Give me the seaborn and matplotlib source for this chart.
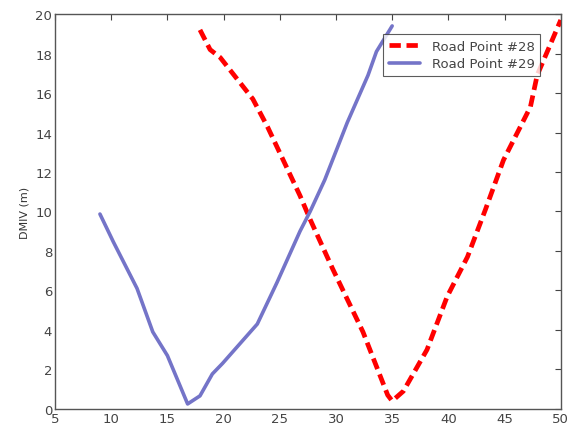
import numpy as np
import pandas as pd
import seaborn as sns
import matplotlib
matplotlib.use("Agg")
import matplotlib.pyplot as plt

# Road Point #28 (red dashed)
x28 = [17.9, 18.8, 19.7, 22.6, 23.9, 26.8, 27.7, 29.7, 32.4, 34.6, 35.0, 36.0, 38.1, 39.9, 41.7, 43.3, 44.9, 47.3, 47.9, 50.0]
y28 = [19.2, 18.2, 17.8, 15.7, 14.3, 10.8, 9.6, 7.1, 3.9, 0.7, 0.4, 0.9, 3.0, 5.7, 7.7, 10.1, 12.6, 15.3, 16.9, 19.7]

# Road Point #29 (blue solid)
x29 = [9.0, 10.2, 12.3, 13.7, 15.0, 16.8, 17.9, 19.0, 19.9, 23.0, 24.75, 26.8, 27.7, 29.0, 31.0, 32.85, 33.6, 35.0]
y29 = [9.87, 8.45, 6.1, 3.9, 2.7, 0.25, 0.66, 1.77, 2.3, 4.3, 6.4, 9.0, 10.0, 11.6, 14.5, 16.9, 18.1, 19.4]

sns.set_style("white")
plt.rcParams['font.family'] = ['DejaVu Sans']
plt.rcParams['xtick.direction'] = 'in'
plt.rcParams['ytick.direction'] = 'in'

fig = plt.figure(figsize=(5.67, 4.31), dpi=100)
ax = fig.add_axes([0.097, 0.049, 0.892, 0.916])

df28 = pd.DataFrame({'x': x28, 'y': y28})
df29 = pd.DataFrame({'x': x29, 'y': y29})
sns.lineplot(data=df28, x='x', y='y', sort=False, ax=ax, color='#ff0000',
             linewidth=3.4, linestyle=(0, (2.4, 1.2)), label='Road Point #28')
sns.lineplot(data=df29, x='x', y='y', sort=False, ax=ax, color='#7474c8',
             linewidth=2.6, label='Road Point #29')

ax.set_xlim(5, 50)
ax.set_ylim(0, 20)
ax.set_xticks(np.arange(5, 51, 5))
ax.set_yticks(np.arange(0, 21, 2))
ax.set_xlabel('')
ax.set_ylabel('DMIV (m)', fontsize=8, color='#333333')
ax.tick_params(axis='both', labelsize=9.5, colors='#444444', length=4,
               top=True, right=True, direction='in', pad=2)
for s in ax.spines.values():
    s.set_color('#555555')
    s.set_linewidth(1.0)

leg = ax.legend(loc='upper right', bbox_to_anchor=(0.965, 0.955), fontsize=9.5,
                frameon=True, fancybox=False, borderpad=0.4, labelspacing=0.35,
                handlelength=2.4, handletextpad=0.9, borderaxespad=0.2)
leg.get_frame().set_edgecolor('#333333')
leg.get_frame().set_linewidth(0.8)
for t in leg.get_texts():
    t.set_color('#444444')

fig.savefig('out.png', dpi=100)
